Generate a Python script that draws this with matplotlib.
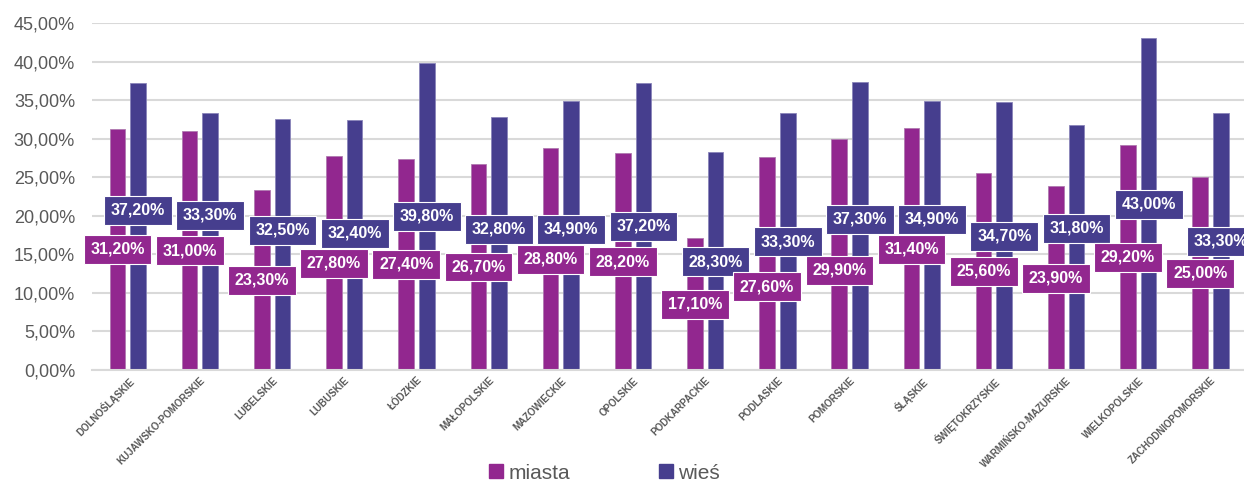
import matplotlib
matplotlib.use("Agg")
import matplotlib.pyplot as plt
from matplotlib.lines import Line2D
import numpy as np

plt.rcParams["font.family"] = ["Liberation Sans", "DejaVu Sans"]

regions = ["DOLNOŚLĄSKIE", "KUJAWSKO-POMORSKIE", "LUBELSKIE", "LUBUSKIE", "ŁÓDZKIE",
           "MAŁOPOLSKIE", "MAZOWIECKIE", "OPOLSKIE", "PODKARPACKIE", "PODLASKIE",
           "POMORSKIE", "ŚLĄSKIE", "ŚWIĘTOKRZYSKIE", "WARMIŃSKO-MAZURSKIE",
           "WIELKOPOLSKIE", "ZACHODNIOPOMORSKIE"]
miasta = [31.2, 31.0, 23.3, 27.8, 27.4, 26.7, 28.8, 28.2, 17.1, 27.6, 29.9, 31.4, 25.6, 23.9, 29.2, 25.0]
wies = [37.2, 33.3, 32.5, 32.4, 39.8, 32.8, 34.9, 37.2, 28.3, 33.3, 37.3, 34.9, 34.7, 31.8, 43.0, 33.3]

# label heights (as placed by hand in the original chart)
miasta_lab_y = [15.65, 15.48, 11.63, 13.83, 13.7, 13.32, 14.35, 14.05, 8.51, 10.81, 12.92, 15.65, 12.79, 11.89, 14.61, 12.53]
wies_lab_y = [20.7, 20.06, 18.1, 17.72, 19.93, 18.24, 18.24, 18.63, 14.05, 16.64, 19.53, 19.53, 17.33, 18.37, 21.48, 16.68]

C_M = "#92278F"
C_W = "#463E8E"

fig = plt.figure(figsize=(12.44, 4.82), dpi=100)
ax = fig.add_axes([91.7 / 1244, 0.2324, (1246.6 - 91.7) / 1244, 0.7199])

x = np.arange(len(regions))
w = 0.217
off = 0.143
ax.bar(x - off, miasta, w, color=C_M, edgecolor="#B07AB0", linewidth=0.6, zorder=2)
ax.bar(x + off, wies, w, color=C_W, edgecolor="#8A84BA", linewidth=0.6, zorder=2)

def fmt(v):
    return f"{v:.2f}%".replace(".", ",")

for i in range(len(regions)):
    ax.text(x[i] - off, miasta_lab_y[i], fmt(miasta[i]), ha="center", va="center",
            color="white", fontsize=11.5, fontweight="bold", zorder=4, clip_on=False,
            bbox=dict(boxstyle="square,pad=0.42", fc=C_M, ec="white", lw=0.8))
    ax.text(x[i] + off, wies_lab_y[i], fmt(wies[i]), ha="center", va="center",
            color="white", fontsize=11.5, fontweight="bold", zorder=3, clip_on=False,
            bbox=dict(boxstyle="square,pad=0.42", fc=C_W, ec="white", lw=0.8))

ax.set_xlim(-0.5, len(regions) - 0.5)
ax.set_ylim(0, 45)
ax.set_yticks(np.arange(0, 46, 5))
ax.set_yticklabels([fmt(v) for v in np.arange(0, 46, 5)], fontsize=13, color="#595959")
ax.yaxis.grid(True, color="#D9D9D9", linewidth=1.5, zorder=0)
ax.set_axisbelow(True)
ax.tick_params(axis="y", length=0, pad=12)
ax.tick_params(axis="x", length=0, pad=4)
ax.set_xticks(x)
ax.set_xticklabels(regions, rotation=45, ha="right", rotation_mode="anchor",
                   fontsize=7, fontweight="bold", color="#595959")
for s in ["top", "right", "left"]:
    ax.spines[s].set_visible(False)
ax.spines["bottom"].set_color("#D9D9D9")
ax.spines["bottom"].set_linewidth(1.5)

handles = [Line2D([], [], marker="s", ls="", color=C_M, markersize=10),
           Line2D([], [], marker="s", ls="", color=C_W, markersize=10)]
fig.legend(handles, ["miasta", "wieś"], loc="lower center", bbox_to_anchor=(0.4855, -0.04),
           ncol=2, frameon=False, fontsize=15, labelcolor="#595959",
           handlelength=0.8, handletextpad=0.2, columnspacing=4.2)

fig.savefig("out.png", dpi=100)
